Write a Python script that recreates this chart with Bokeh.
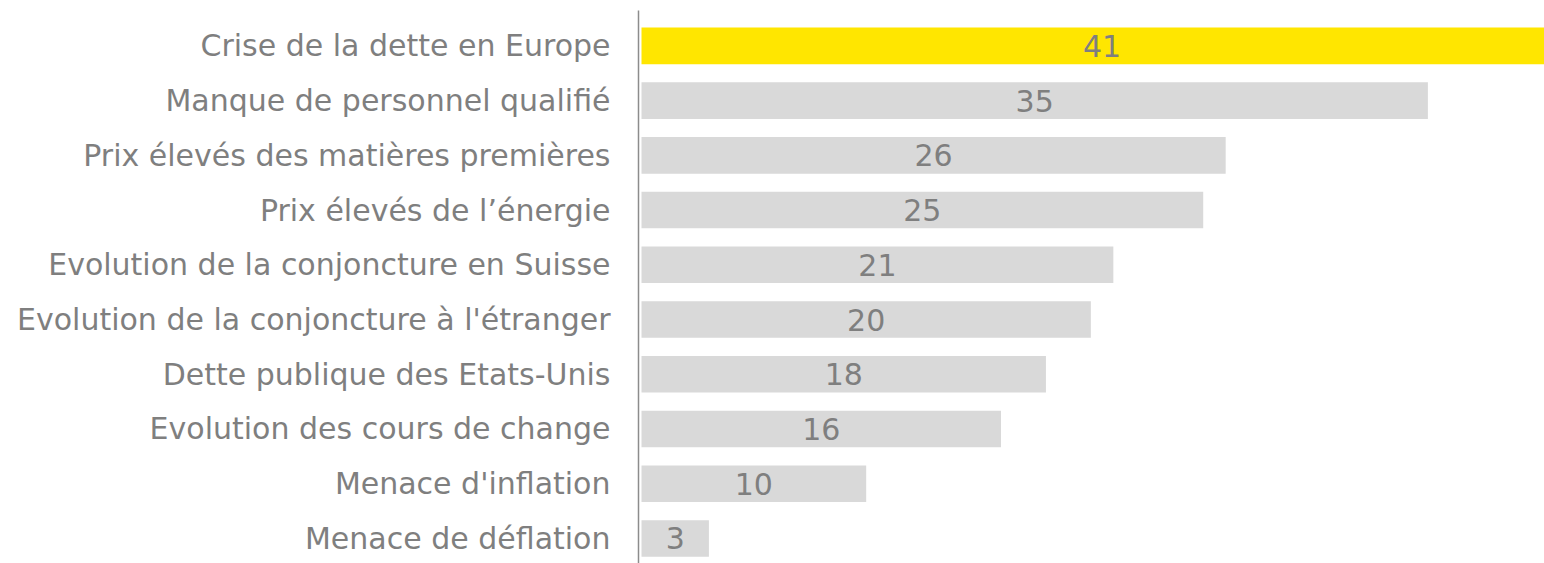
from bokeh.plotting import figure
from bokeh.models import Range1d, FixedTicker, ColumnDataSource
from bokeh.core.properties import value
from bokeh.embed import file_html
from bokeh.resources import INLINE

categories = [
    "Crise de la dette en Europe",
    "Manque de personnel qualifié",
    "Prix élevés des matières premières",
    "Prix élevés de l’énergie",
    "Evolution de la conjoncture en Suisse",
    "Evolution de la conjoncture à l'étranger",
    "Dette publique des Etats-Unis",
    "Evolution des cours de change",
    "Menace d'inflation",
    "Menace de déflation",
]
values = [41, 35, 26, 25, 21, 20, 18, 16, 10, 3]
colors = ["#FFE600"] + ["#D9D9D9"] * 9

FONT = "DejaVu Sans"
TEXT_COLOR = "#7F7F7F"

pos = list(range(len(categories)))
src = ColumnDataSource(dict(
    y=pos,
    v=values,
    mid=[v / 2 for v in values],
    lbl=[str(v) for v in values],
    color=colors,
))

p = figure(
    width=1544, height=563,
    x_range=Range1d(-0.1335, 40.19),
    y_range=Range1d(9.457, -0.645),
    output_backend="svg", toolbar_location=None,
    x_axis_location=None,
    min_border_left=638, min_border_right=0,
    min_border_top=10, min_border_bottom=0,
)
p.outline_line_color = None
p.xgrid.visible = False
p.ygrid.visible = False
p.background_fill_color = "white"
p.border_fill_color = "white"

p.hbar(y="y", left=0, right="v", height=0.67, fill_color="color",
       line_color=None, source=src)
p.text(x="mid", y="y", text="lbl", source=src,
       text_align="center", text_baseline="middle",
       text_font=value(FONT), text_font_size="30px", text_color=TEXT_COLOR)

ax = p.yaxis[0]
ax.ticker = FixedTicker(ticks=pos)
ax.major_label_overrides = {i: c for i, c in zip(pos, categories)}
ax.major_label_text_font = FONT
ax.major_label_text_font_size = "30px"
ax.major_label_text_color = TEXT_COLOR
ax.major_tick_line_color = None
ax.minor_tick_line_color = None
ax.major_tick_out = 0
ax.major_tick_in = 0
ax.major_label_standoff = 28
ax.axis_line_color = "#8C8C8C"
ax.axis_line_width = 1.5

open("out.html", "w").write(file_html(p, INLINE))
